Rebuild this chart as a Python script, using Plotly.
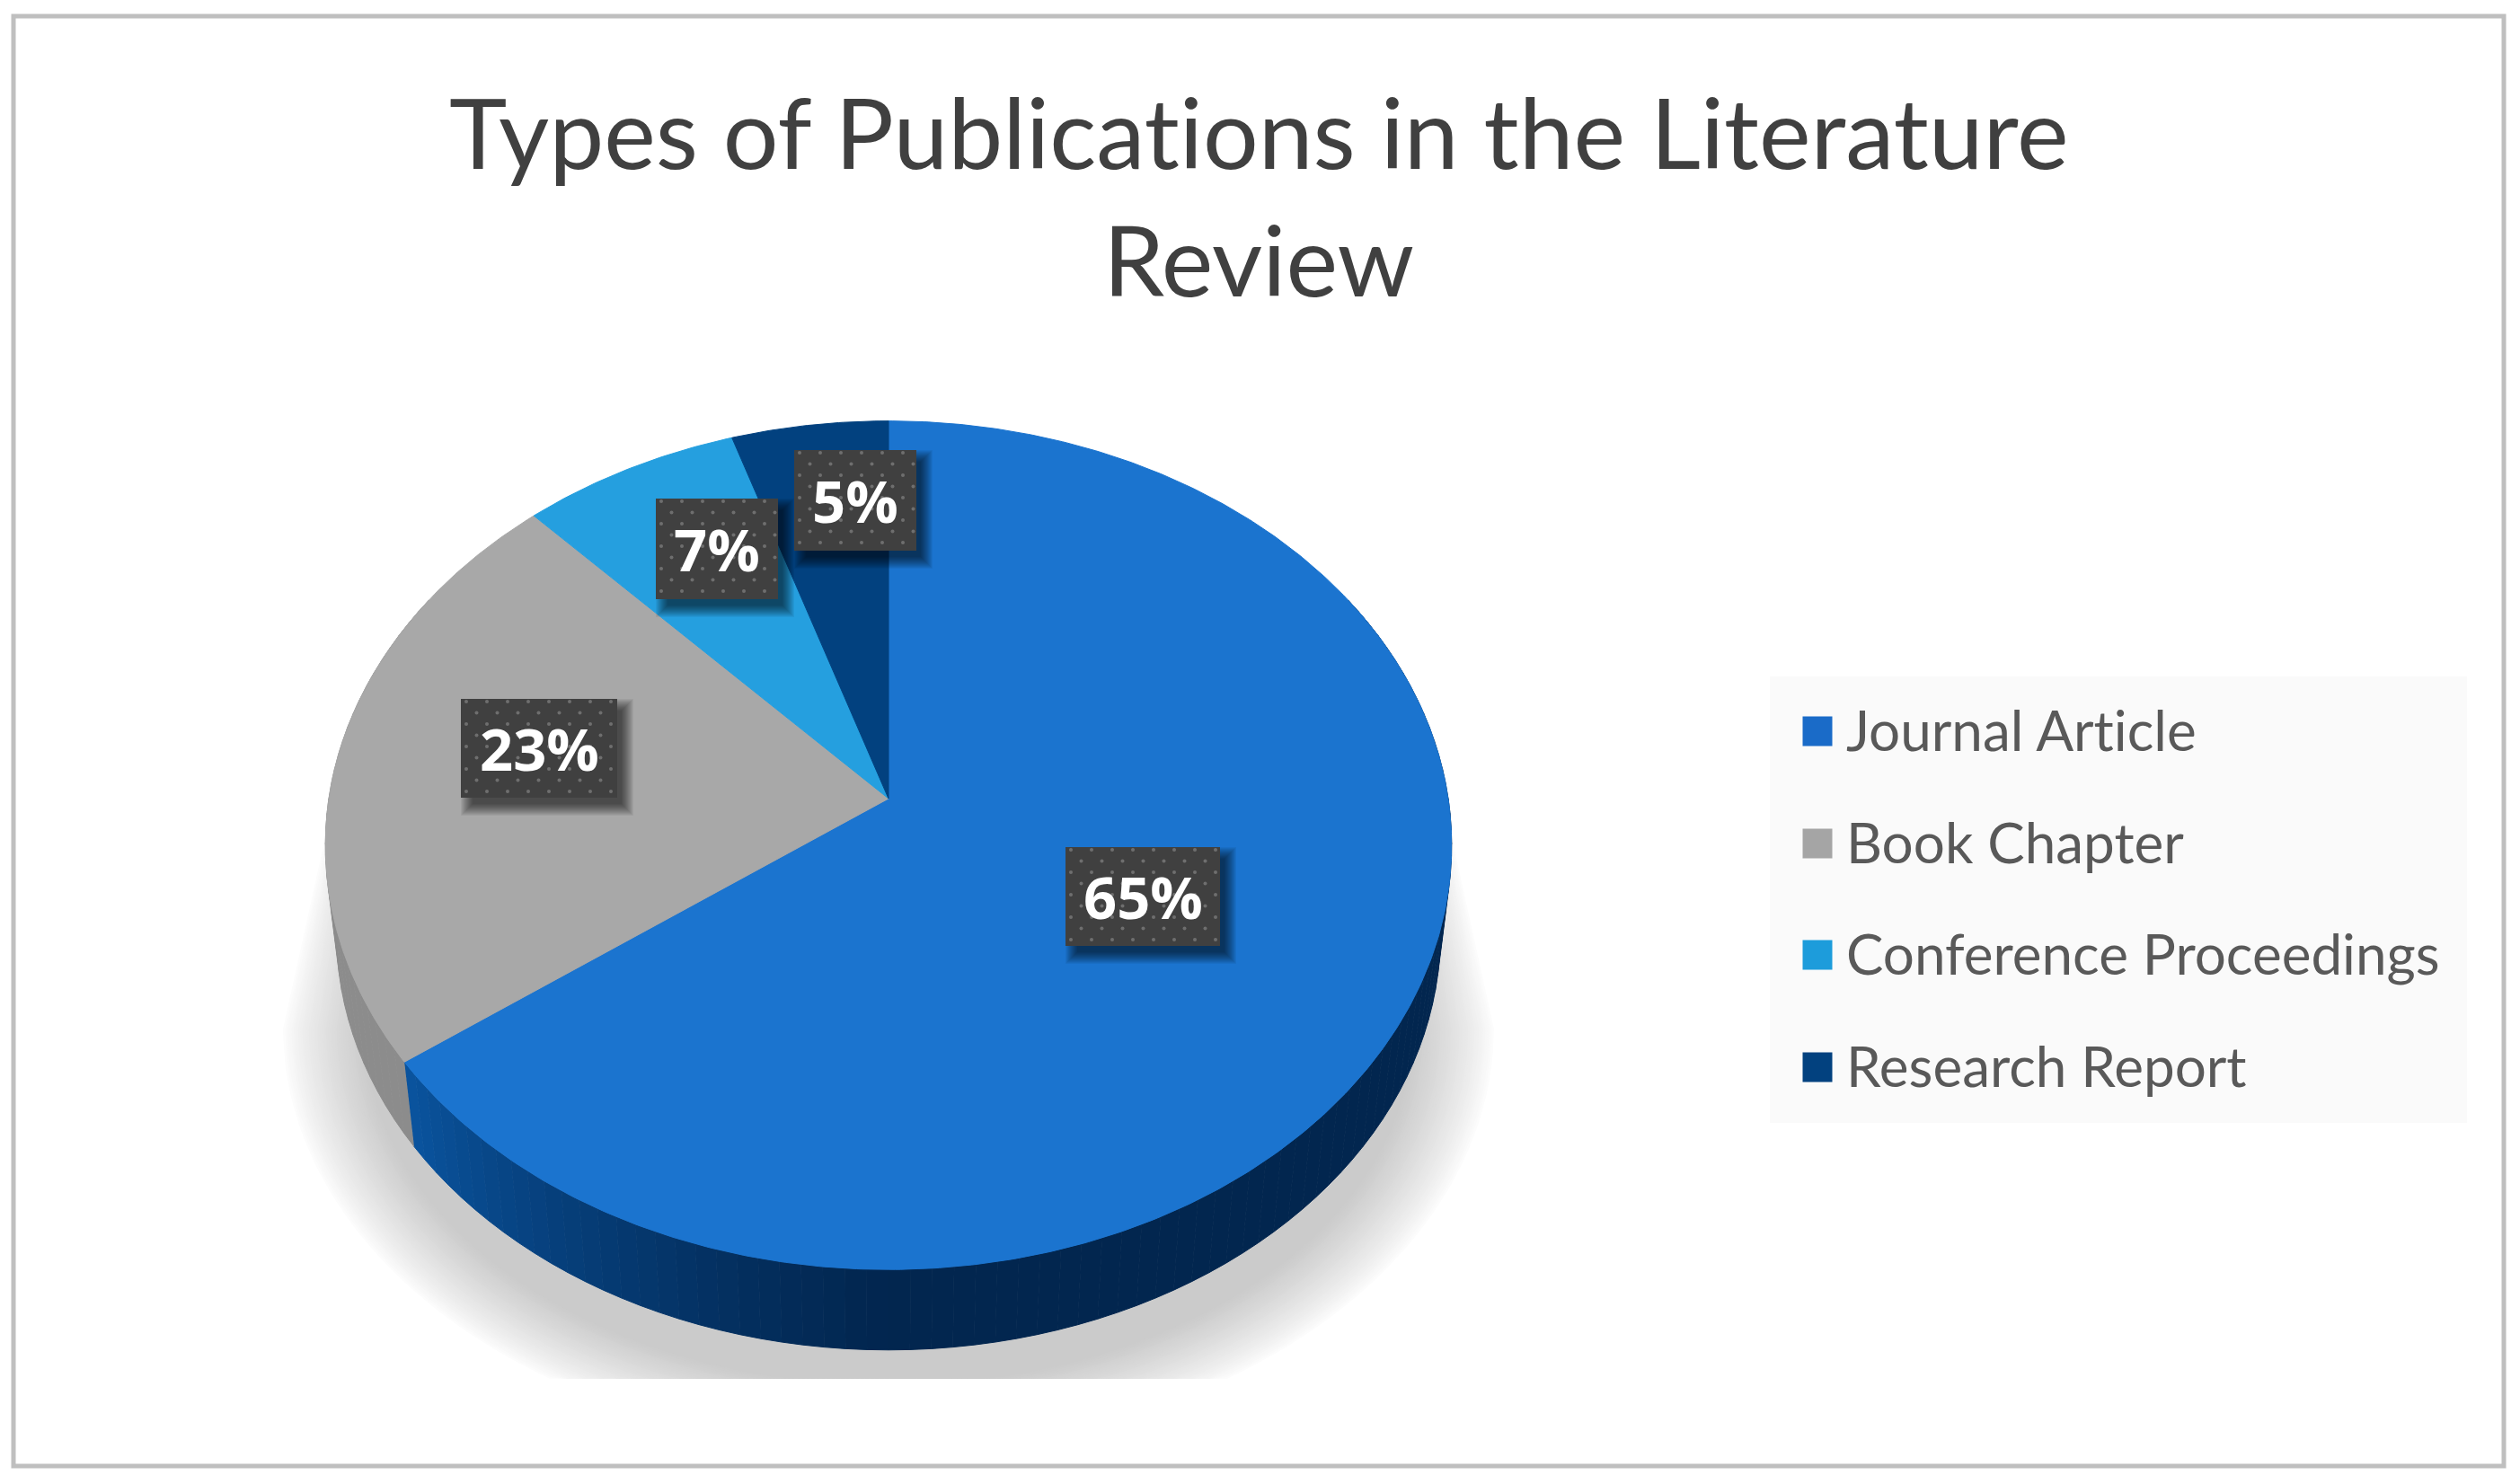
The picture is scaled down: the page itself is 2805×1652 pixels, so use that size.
import numpy as np
import plotly.graph_objects as go

# ---- data ----
CATEGORIES = ["Journal Article", "Book Chapter", "Conference Proceedings", "Research Report"]
SHARES = [65, 23, 7, 5]
TITLE_LINES = ["Types of Publications in the Literature", "Review"]

# ---- styles and layout ----
TOP_COLORS = ["#1b74cf", "#a8a8a8", "#259fdf", "#02417f"]
SWATCH_COLORS = ["#1a6bc8", "#a5a5a5", "#1d9cdb", "#02417f"]
LABEL_CENTERS = [(1272, 998), (600, 833), (798, 611), (952, 557)]
LABEL_SIZES = [(172, 110), (174, 110), (136, 112), (136, 112)]
LEGEND_ROWS = [814, 939, 1063, 1188]
W, H = 2805, 1652
PAGE_MARGIN = 8            # the page body offsets the plot by this much
CX, CY = 989, 889          # apex of the pie
A, B, K = 623, 466.6, 0.11 # perspective disc
DEPTH, RIM = 100, 0.98
TITLE_FONT = "Lato"
LEGEND_FONT = "Lato"
NO_LIG = '<span style="font-variant-ligatures:none">%s</span>'


def disc(deg, f=1.0):
    t = np.radians(deg)
    u, v = f * np.sin(t), f * np.cos(t)
    d = 1 + K * v
    return A * u / d, -B * v / d


def mix(c1, c2, t):
    a = [int(c1[i:i + 2], 16) for i in (1, 3, 5)]
    b = [int(c2[i:i + 2], 16) for i in (1, 3, 5)]
    return "rgb(%d,%d,%d)" % tuple(round(p + (q - p) * t) for p, q in zip(a, b))


def poly(fig, x, y, color, line=0):
    fig.add_trace(go.Scatter(
        x=list(x), y=list(y), mode="lines", fill="toself", fillcolor=color,
        line=dict(color=color if line else "rgba(0,0,0,0)", width=line),
        hoverinfo="skip", showlegend=False))


fig = go.Figure()

# soft ground shadow, painted outer to inner
S = 1.789
LAYERS = 40
CLIP = 858 * S
for i in range(LAYERS):
    t = i / (LAYERS - 1)
    rx = (378 - 52 * t) * S
    ry = (264 - 42 * t) * S
    yc = 640 * S
    ang = np.linspace(0, np.pi, 120)
    ex = CX + rx * np.cos(ang)
    ey = np.minimum(yc + ry * np.sin(ang), CLIP)
    top = (340 - 30 * t) * S
    x = np.concatenate([ex, [CX - top, CX + top]])
    y = np.concatenate([ey, [470 * S, 470 * S]])
    poly(fig, x, y, mix("#ffffff", "#cbcbcb", t ** 0.8))

# side wall of the disc
bounds = np.cumsum([0] + SHARES) / sum(SHARES) * 360
STEP = 2.0
for deg in np.arange(60, 300, STEP):
    d2 = deg + STEP
    xa, ya = disc(np.array([deg, d2]))
    xs = [CX + xa[0], CX + xa[1], CX + RIM * xa[1], CX + RIM * xa[0]]
    ys = [CY + ya[0], CY + ya[1], CY + RIM * ya[1] + DEPTH, CY + RIM * ya[0] + DEPTH]
    mid = deg + STEP / 2
    if mid > bounds[1]:
        col = "#8c8c8c"
    else:
        col = mix("#02264f", "#0a549f", np.clip((mid - 180) / (bounds[1] - 180), 0, 1) ** 1.2)
    poly(fig, xs, ys, col, line=1)

# top surface wedges, built from the shares
for name, color, a0, a1 in zip(CATEGORIES, TOP_COLORS, bounds[:-1], bounds[1:]):
    deg = np.linspace(a0, a1, max(int(a1 - a0) * 2, 8))
    ex, ey = disc(deg)
    fig.add_trace(go.Scatter(
        x=np.concatenate([[CX], CX + ex, [CX]]), y=np.concatenate([[CY], CY + ey, [CY]]),
        mode="lines", fill="toself", fillcolor=color, line=dict(color=color, width=1),
        name=name, hovertemplate=name + "<extra></extra>", showlegend=False))

# data label boxes
for (lx, ly), (bw, bh) in zip(LABEL_CENTERS, LABEL_SIZES):
    for g in range(14, 0, -1):
        poly(fig,
             [lx - bw / 2 + 14 - g, lx + bw / 2 + 4 + g, lx + bw / 2 + 4 + g, lx - bw / 2 + 14 - g],
             [ly - bh / 2 + 14 - g, ly - bh / 2 + 14 - g, ly + bh / 2 + 6 + g, ly + bh / 2 + 6 + g],
             "rgba(0,0,0,0.05)")
    poly(fig,
         [lx - bw / 2, lx + bw / 2, lx + bw / 2, lx - bw / 2],
         [ly - bh / 2, ly - bh / 2, ly + bh / 2, ly + bh / 2], "#404040")
    dx, dy = [], []
    for r, yy in enumerate(np.arange(ly - bh / 2 + 3, ly + bh / 2, 12.5)):
        off = 11.5 if r % 2 else 0
        for xx in np.arange(lx - bw / 2 + 6 + off, lx + bw / 2 - 2, 23):
            dx.append(xx)
            dy.append(yy)
    fig.add_trace(go.Scatter(x=dx, y=dy, mode="markers", hoverinfo="skip", showlegend=False,
                             marker=dict(size=4, color="#6e6e6e", line=dict(width=0))))

annotations = []
for share, (lx, ly) in zip(SHARES, LABEL_CENTERS):
    annotations.append(dict(x=lx, y=ly, xref="x", yref="y", text=f"<b>{share}%</b>", showarrow=False,
                            font=dict(family="Open Sans", size=65, color="#ffffff"),
                            xanchor="center", yanchor="middle"))

# legend
fig.add_trace(go.Scatter(
    x=[2023] * len(CATEGORIES), y=LEGEND_ROWS, mode="markers", hoverinfo="skip", showlegend=False,
    marker=dict(symbol="square", size=33, color=SWATCH_COLORS, line=dict(width=0))))
for name, row in zip(CATEGORIES, LEGEND_ROWS):
    annotations.append(dict(x=2053, y=row - 2, xref="x", yref="y", text=NO_LIG % name, showarrow=False,
                            font=dict(family=LEGEND_FONT, size=62, color="#595959"),
                            xanchor="left", yanchor="middle"))

# title
for line, yy in zip(TITLE_LINES, [145, 287]):
    annotations.append(dict(x=1401, y=yy, xref="x", yref="y", text=NO_LIG % line, showarrow=False,
                            font=dict(family=TITLE_FONT, size=109, color="#404040"),
                            xanchor="center", yanchor="middle"))

shapes = [
    dict(type="rect", xref="x", yref="y", x0=1970, x1=2746, y0=753, y1=1250,
         fillcolor="#fafafa", line=dict(width=0), layer="below"),
    dict(type="rect", xref="x", yref="y", x0=15, x1=2787, y0=18, y1=1632,
         fillcolor="rgba(0,0,0,0)", line=dict(color="#bfbfbf", width=5), layer="above"),
]

fig.update_layout(
    width=W - 2 * PAGE_MARGIN, height=H - 2 * PAGE_MARGIN,
    margin=dict(l=0, r=0, t=0, b=0),
    paper_bgcolor="#ffffff", plot_bgcolor="#ffffff", showlegend=False,
    xaxis=dict(range=[PAGE_MARGIN, W - PAGE_MARGIN], visible=False, fixedrange=True),
    yaxis=dict(range=[H - PAGE_MARGIN, PAGE_MARGIN], visible=False, fixedrange=True),
    annotations=annotations, shapes=shapes,
)
fig.write_html("out.html", config=dict(displayModeBar=False))
